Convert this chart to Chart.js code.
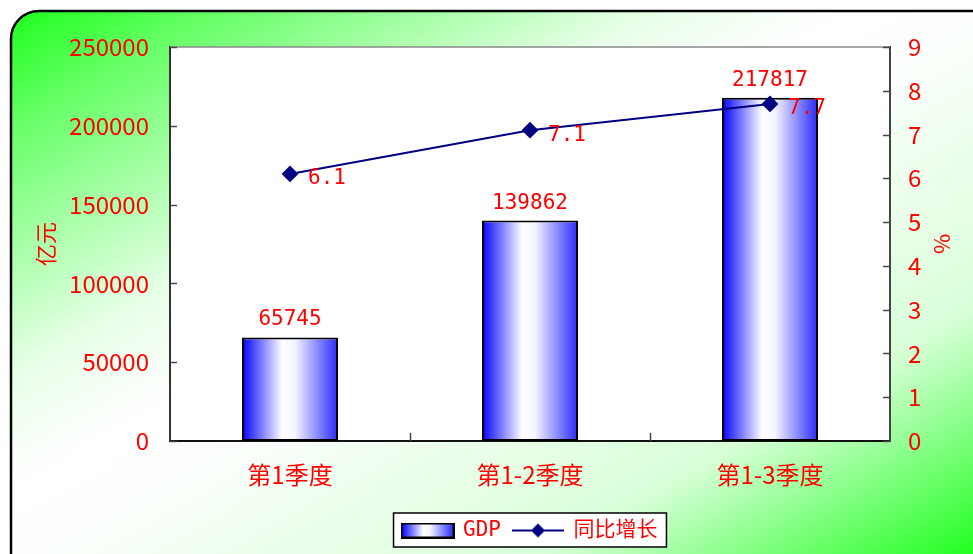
<!DOCTYPE html>
<html>
<head>
<meta charset="utf-8">
<title>GDP 同比增长</title>
<script src="https://cdn.jsdelivr.net/npm/chart.js@4.4.1/dist/chart.umd.min.js"></script>
<style>
  html, body { margin: 0; padding: 0; background: #fff; }
  #wrap { width: 973px; height: 554px; }
</style>
</head>
<body>
<div id="wrap"><canvas id="gdpChart" width="973" height="554"></canvas></div>
<script>
// quarterly cumulative GDP (亿元) and year-on-year growth (%)
const quarters = ['第1季度', '第1-2季度', '第1-3季度'];
const gdpValues = [65745, 139862, 217817];
const growthValues = [6.1, 7.1, 7.7];
const gdpTicks = [0, 50000, 100000, 150000, 200000, 250000];
const growthTicks = [0, 1, 2, 3, 4, 5, 6, 7, 8, 9];

const RED = '#ff0000';
const NAVY = '#000080';
const BAR_PCT = 0.4;
const sansFamily = "'Noto Sans CJK SC', 'Noto Sans', sans-serif";
const monoFamily = "'DejaVu Sans Mono', 'Noto Sans CJK SC', monospace";

function addBarStops(g) {
    g.addColorStop(0, '#0000ff');
    g.addColorStop(0.42, '#ffffff');
    g.addColorStop(0.55, '#f4f4ff');
    g.addColorStop(1, '#2a2aff');
    return g;
}

// horizontal blue-white-blue fill for each bar
function barFill(context) {
    const chart = context.chart;
    const xs = chart.scales.x;
    if (!xs || context.dataIndex === undefined) return '#0000ff';
    const cx = xs.getPixelForValue(context.dataIndex);
    const half = xs.width / quarters.length * BAR_PCT / 2;
    return addBarStops(chart.ctx.createLinearGradient(cx - half, 0, cx + half, 0));
}

// legend swatches
function makeBarSwatch() {
    const c = document.createElement('canvas');
    c.width = 54; c.height = 16;
    const g = c.getContext('2d');
    g.fillStyle = addBarStops(g.createLinearGradient(1, 0, 53, 0));
    g.fillRect(1, 1, 52, 14);
    g.lineWidth = 2;
    g.strokeStyle = '#000';
    g.strokeRect(1, 1, 52, 14);
    return c;
}

function makeLineSwatch() {
    const c = document.createElement('canvas');
    c.width = 52; c.height = 16;
    const g = c.getContext('2d');
    g.strokeStyle = NAVY;
    g.lineWidth = 2;
    g.beginPath();
    g.moveTo(0, 8); g.lineTo(52, 8);
    g.stroke();
    g.fillStyle = NAVY;
    g.beginPath();
    g.moveTo(26, 1); g.lineTo(33, 8); g.lineTo(26, 15); g.lineTo(19, 8);
    g.closePath();
    g.fill();
    return c;
}

const decorations = {
    id: 'decorations',
    beforeDraw(chart) {
        const ctx = chart.ctx;
        const W = chart.width, H = chart.height;
        ctx.save();
        // rounded panel with diagonal green-white-green wash
        const k = 2 * W * H / (W * W + H * H);
        const bg = ctx.createLinearGradient(0, 0, k * H, k * W);
        bg.addColorStop(0, '#11ff11');
        bg.addColorStop(0.12, '#66ff66');
        bg.addColorStop(0.35, '#eaffea');
        bg.addColorStop(0.45, '#ffffff');
        bg.addColorStop(0.53, '#fbfffb');
        bg.addColorStop(0.78, '#d8ffd8');
        bg.addColorStop(1, '#22ff22');
        ctx.beginPath();
        ctx.roundRect(11, 11, W + 20, H + 20, 28);
        ctx.fillStyle = bg;
        ctx.fill();
        ctx.lineWidth = 2.5;
        ctx.strokeStyle = '#000';
        ctx.stroke();

        // plot area
        const a = chart.chartArea;
        ctx.fillStyle = '#fff';
        ctx.fillRect(a.left, a.top, a.right - a.left, a.bottom - a.top);

        // legend frame
        const boxes = chart.legend.legendHitBoxes;
        if (boxes && boxes.length) {
            const l = Math.min(...boxes.map(b => b.left)) - 9;
            const r = Math.max(...boxes.map(b => b.left + b.width)) + 9;
            const t = Math.min(...boxes.map(b => b.top)) - 7;
            const btm = Math.max(...boxes.map(b => b.top + b.height)) + 6;
            ctx.fillStyle = '#fff';
            ctx.fillRect(l, t, r - l, btm - t);
            ctx.lineWidth = 1.5;
            ctx.strokeStyle = '#000';
            ctx.strokeRect(l, t, r - l, btm - t);
        }
        ctx.restore();
    },
    afterDraw(chart) {
        const ctx = chart.ctx;
        const a = chart.chartArea;
        const ys = chart.scales.y, y1 = chart.scales.y1, xs = chart.scales.x;
        ctx.save();

        // top edge of plot area
        ctx.strokeStyle = '#888';
        ctx.lineWidth = 1.5;
        ctx.beginPath();
        ctx.moveTo(a.left, a.top); ctx.lineTo(a.right, a.top);
        ctx.stroke();

        // inward tick marks
        ctx.strokeStyle = '#444';
        ctx.lineWidth = 1.5;
        ctx.beginPath();
        ys.ticks.forEach(t => {
            const y = Math.round(ys.getPixelForValue(t.value)) + 0.5;
            ctx.moveTo(a.left, y); ctx.lineTo(a.left + 7, y);
        });
        y1.ticks.forEach(t => {
            const y = Math.round(y1.getPixelForValue(t.value)) + 0.5;
            ctx.moveTo(a.right - 7, y); ctx.lineTo(a.right, y);
        });
        for (let i = 0; i < quarters.length - 1; i++) {
            const x = Math.round((xs.getPixelForValue(i) + xs.getPixelForValue(i + 1)) / 2) + 0.5;
            ctx.moveTo(x, a.bottom); ctx.lineTo(x, a.bottom - 8);
        }
        ctx.stroke();

        // value labels
        ctx.fillStyle = RED;
        ctx.font = '21px ' + monoFamily;
        ctx.textBaseline = 'alphabetic';
        ctx.textAlign = 'center';
        chart.getDatasetMeta(0).data.forEach((el, i) => {
            ctx.fillText(String(gdpValues[i]), el.x, el.y - 12);
        });
        ctx.textAlign = 'left';
        ctx.textBaseline = 'middle';
        chart.getDatasetMeta(1).data.forEach((el, i) => {
            ctx.fillText(growthValues[i].toFixed(1), el.x + 18, el.y + 5);
        });
        ctx.restore();
    }
};

const barSwatch = makeBarSwatch();
const lineSwatch = makeLineSwatch();

const data = {
    labels: quarters,
    datasets: [{
        type: 'bar',
        label: 'GDP',
        data: gdpValues,
        yAxisID: 'y',
        backgroundColor: barFill,
        borderColor: '#000',
        borderWidth: 2,
        borderSkipped: false,
        barPercentage: BAR_PCT,
        categoryPercentage: 1,
        order: 1
    },
    {
        type: 'line',
        label: '同比增长',
        data: growthValues,
        yAxisID: 'y1',
        borderColor: NAVY,
        borderWidth: 2,
        backgroundColor: NAVY,
        pointStyle: 'rectRot',
        pointRadius: 7,
        pointBackgroundColor: NAVY,
        pointBorderColor: NAVY,
        tension: 0,
        fill: false,
        order: 0
    }]
};

const config = {
    data: data,
    options: {
        responsive: false,
        devicePixelRatio: 1,
        animation: false,
        layout: {
            padding: { top: 47, left: 30, right: 13, bottom: 3 }
        },
        scales: {
            x: {
                offset: true,
                grid: { display: false },
                border: { display: true, color: '#111', width: 2 },
                ticks: { color: RED, font: { family: sansFamily, size: 24 }, padding: 11, maxRotation: 0 },
                afterFit: s => { s.height = 67; }
            },
            y: {
                position: 'left',
                min: gdpTicks[0],
                max: gdpTicks[gdpTicks.length - 1],
                grid: { display: false },
                border: { display: true, color: '#333', width: 2 },
                ticks: {
                    stepSize: gdpTicks[1] - gdpTicks[0],
                    color: RED,
                    font: { family: sansFamily, size: 24 },
                    padding: 13,
                    callback: v => String(v)
                },
                title: { display: true, text: '亿元', color: RED, font: { family: sansFamily, size: 22 }, padding: 2 },
                afterFit: s => { s.width = 140; }
            },
            y1: {
                position: 'right',
                min: growthTicks[0],
                max: growthTicks[growthTicks.length - 1],
                grid: { display: false },
                border: { display: true, color: '#444', width: 2 },
                ticks: {
                    stepSize: growthTicks[1] - growthTicks[0],
                    color: RED,
                    font: { family: sansFamily, size: 24 },
                    padding: 10,
                    callback: v => String(v)
                },
                title: { display: true, text: '%', color: RED, font: { family: sansFamily, size: 22 }, padding: 4 },
                afterFit: s => { s.width = 70; }
            }
        },
        plugins: {
            legend: {
                position: 'bottom',
                fullSize: false,
                labels: {
                    usePointStyle: true,
                    pointStyleWidth: 50,
                    padding: 12,
                    color: RED,
                    font: { family: monoFamily, size: 21 },
                    generateLabels: () => [
                        { text: 'GDP', pointStyle: barSwatch, datasetIndex: 0, hidden: false, lineWidth: 0, fontColor: RED },
                        { text: '同比增长', pointStyle: lineSwatch, datasetIndex: 1, hidden: false, lineWidth: 0, fontColor: RED }
                    ]
                }
            },
            tooltip: { enabled: false }
        }
    },
    plugins: [decorations]
};

new Chart(document.getElementById('gdpChart'), config);
</script>
</body>
</html>
